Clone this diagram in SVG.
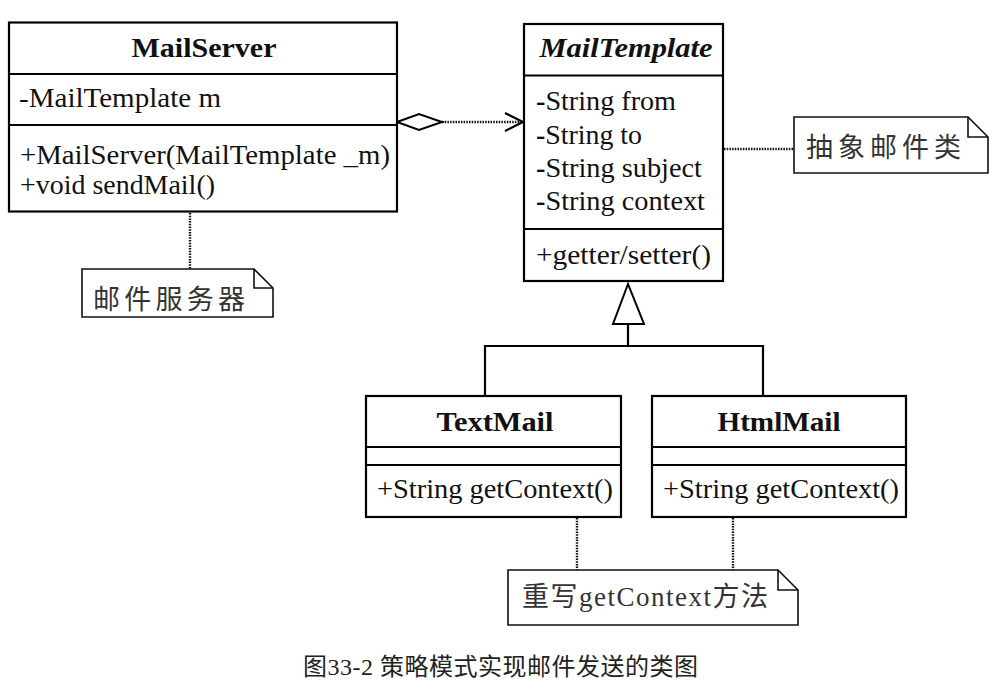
<svg xmlns="http://www.w3.org/2000/svg" width="1003" height="692" viewBox="0 0 1003 692">
<style>
.box{fill:#fff;stroke:#000;stroke-width:2.2}
.div{stroke:#000;stroke-width:2.2}
.t{font-family:"Liberation Serif","Times New Roman",serif;font-size:28px;fill:#111}
.b{font-weight:bold}
.bi{font-weight:bold;font-style:italic}
.note{fill:#fff;stroke:#111;stroke-width:1.6}
.fold{fill:none;stroke:#111;stroke-width:1.6}
.cj{font-family:"Liberation Serif","Noto Sans CJK SC",serif;font-size:27px;fill:#333}
.dot{fill:none;stroke:#111;stroke-width:2.4;stroke-dasharray:1.5 1.2}
.ln{fill:none;stroke:#000;stroke-width:2.2}
</style>
<rect width="1003" height="692" fill="#fff"/>
<g id="connectors">
<line class="dot" x1="442" y1="122" x2="522" y2="122"/>
<polygon points="397,122 419,114 442,122 419,130" fill="#fff" stroke="#000" stroke-width="2"/>
<polyline class="ln" points="505,113 523,122 505,131"/>
<polyline class="ln" points="485,396 485,346 763,346 763,396"/>
<line class="ln" x1="628" y1="324" x2="628" y2="346"/>
<polygon points="628,284 613,324 644,324" fill="#fff" stroke="#000" stroke-width="2"/>
<line class="dot" x1="190" y1="213" x2="190" y2="269"/>
<line class="dot" x1="724" y1="149" x2="794" y2="149"/>
<line class="dot" x1="577" y1="518" x2="577" y2="570"/>
<line class="dot" x1="733" y1="518" x2="733" y2="570"/>
</g>
<g id="MailServer">
<rect class="box" x="9" y="22.5" width="388" height="189"/>
<line class="div" x1="9" y1="74" x2="397" y2="74"/>
<line class="div" x1="9" y1="125" x2="397" y2="125"/>
<text class="t b" x="204" y="57" text-anchor="middle" textLength="145" lengthAdjust="spacingAndGlyphs">MailServer</text>
<text class="t" x="19" y="107" textLength="202" lengthAdjust="spacingAndGlyphs">-MailTemplate m</text>
<text class="t" x="20" y="164" textLength="370" lengthAdjust="spacingAndGlyphs">+MailServer(MailTemplate _m)</text>
<text class="t" x="20" y="194" textLength="195" lengthAdjust="spacingAndGlyphs">+void sendMail()</text>
</g>
<g id="MailTemplate">
<rect class="box" x="524" y="24" width="199" height="257"/>
<line class="div" x1="524" y1="75.5" x2="723" y2="75.5"/>
<line class="div" x1="524" y1="229" x2="723" y2="229"/>
<text class="t bi" x="626" y="57" text-anchor="middle" textLength="173" lengthAdjust="spacingAndGlyphs">MailTemplate</text>
<text class="t" x="536" y="110" textLength="140" lengthAdjust="spacingAndGlyphs"><tspan font-weight="bold">-</tspan>String from</text>
<text class="t" x="536" y="143.5" textLength="106" lengthAdjust="spacingAndGlyphs"><tspan font-weight="bold">-</tspan>String to</text>
<text class="t" x="536" y="177" textLength="166" lengthAdjust="spacingAndGlyphs"><tspan font-weight="bold">-</tspan>String subject</text>
<text class="t" x="536" y="210" textLength="169" lengthAdjust="spacingAndGlyphs"><tspan font-weight="bold">-</tspan>String context</text>
<text class="t" x="536" y="264" textLength="175" lengthAdjust="spacingAndGlyphs">+getter/setter()</text>
</g>
<g id="TextMail">
<rect class="box" x="366" y="396" width="255" height="121"/>
<line class="div" x1="366" y1="447" x2="621" y2="447"/>
<line class="div" x1="366" y1="465" x2="621" y2="465"/>
<text class="t b" x="495" y="431" text-anchor="middle" textLength="117" lengthAdjust="spacingAndGlyphs">TextMail</text>
<text class="t" x="377" y="498" textLength="236" lengthAdjust="spacingAndGlyphs">+String getContext()</text>
</g>
<g id="HtmlMail">
<rect class="box" x="652" y="396" width="254" height="121"/>
<line class="div" x1="652" y1="447" x2="906" y2="447"/>
<line class="div" x1="652" y1="465" x2="906" y2="465"/>
<text class="t b" x="779" y="431" text-anchor="middle" textLength="123" lengthAdjust="spacingAndGlyphs">HtmlMail</text>
<text class="t" x="663" y="498" textLength="236" lengthAdjust="spacingAndGlyphs">+String getContext()</text>
</g>
<g id="note-abstract">
<path class="note" d="M794,117 H968 L988,137 V173 H794 Z"/>
<path class="fold" d="M968,117 V137 H988"/>
<text class="cj" x="806" y="157" textLength="155" lengthAdjust="spacing">抽象邮件类</text>
</g>
<g id="note-server">
<path class="note" d="M82,269 H254 L273,288 V317 H82 Z"/>
<path class="fold" d="M254,269 V288 H273"/>
<text class="cj" x="93" y="309" textLength="152" lengthAdjust="spacing">邮件服务器</text>
</g>
<g id="note-override">
<path class="note" d="M508,570 H778 L798,590 V625 H508 Z"/>
<path class="fold" d="M778,570 V590 H798"/>
<text class="cj" x="522" y="606" textLength="246" lengthAdjust="spacing">重写getContext方法</text>
</g>
<g id="caption">
<text x="303" y="675" font-family="Liberation Serif, Noto Sans CJK SC, serif" font-size="24" fill="#222" textLength="395" lengthAdjust="spacing">图33-2 策略模式实现邮件发送的类图</text>
</g>
</svg>
